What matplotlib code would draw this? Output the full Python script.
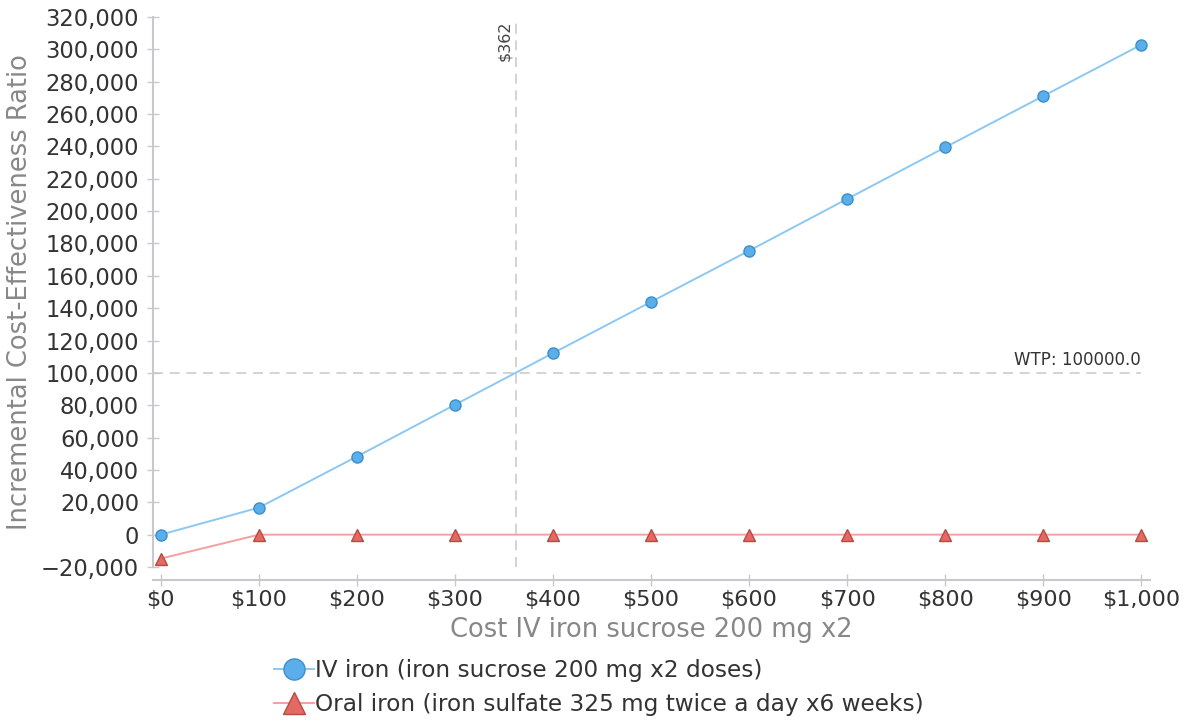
import matplotlib
matplotlib.use("Agg")
import matplotlib.pyplot as plt
from matplotlib.ticker import FuncFormatter

# data
cost = [0, 100, 200, 300, 400, 500, 600, 700, 800, 900, 1000]
iv_icer = [0, 16700, 48300, 80300, 112200, 143900, 175500, 207500, 239400, 271100, 302800]
oral_icer = [-14800, 0, 0, 0, 0, 0, 0, 0, 0, 0, 0]
iv_label = "IV iron (iron sucrose 200 mg x2 doses)"
oral_label = "Oral iron (iron sulfate 325 mg twice a day x6 weeks)"
wtp = 100000
threshold = 362

W, H = 1188, 721
fig = plt.figure(figsize=(W / 100, H / 100), dpi=100)
ax = fig.add_axes([153 / W, 1 - 567 / H, (1150 - 153) / W, (567 - 17) / H])

ax.plot(cost, iv_icer, color="#8cc8f4", lw=1.4, marker="o", ms=8,
        mfc="#5aaeea", mec="#3d8fcc", mew=1, label=iv_label, zorder=3)
ax.plot(cost, oral_icer, color="#f2a0a0", lw=1.4, marker="^", ms=8,
        mfc="#e26a62", mec="#b84a44", mew=1, label=oral_label, zorder=3)

ax.axhline(wtp, xmin=0, xmax=(1000 + 8) / (1009 + 8), color="#cccccc", ls=(0, (6, 4)), lw=1.2, zorder=1)
ax.axvline(threshold, color="#cccccc", ls=(0, (6, 4)), lw=1.2, zorder=1)
ax.text(1000, wtp + 2500, "WTP: 100000.0", ha="right", va="bottom", fontsize=12, color="#333333")
ax.text(threshold - 4, 318000, "$362", rotation=90, ha="right", va="top", fontsize=11.5, color="#444444")

ax.set_xlim(-8, 1009)
ax.set_ylim(-20000, 320000)
ax.set_xticks(cost)
ax.set_yticks(range(-20000, 320001, 20000))
ax.xaxis.set_major_formatter(FuncFormatter(lambda v, p: "${:,.0f}".format(v)))
ax.yaxis.set_major_formatter(FuncFormatter(lambda v, p: "{:,.0f}".format(v).replace("-", "\u2212")))

for s in ["top", "right"]:
    ax.spines[s].set_visible(False)
ax.spines["left"].set_color("#c8c8d0")
ax.spines["bottom"].set_color("#c8c8d0")
ax.spines["left"].set_linewidth(1.5)
ax.spines["bottom"].set_linewidth(1.5)
ax.spines["bottom"].set_position(("outward", 9))
ax.spines["bottom"].set_bounds(-8, 1009)
ax.tick_params(axis="y", direction="inout", length=9, width=1, color="#c8c8d0",
               labelsize=16.3, labelcolor="#333333", pad=5.5)
ax.tick_params(axis="x", direction="inout", length=9, width=1, color="#c8c8d0",
               labelsize=16, labelcolor="#333333", pad=3)

ax.set_ylabel("Incremental Cost-Effectiveness Ratio", fontsize=18.5, color="#888888", labelpad=6)
ax.set_xlabel("Cost IV iron sucrose 200 mg x2", fontsize=18.5, color="#888888", labelpad=5)

fig.legend(loc="upper left", bbox_to_anchor=(265 / W, 1 - 650 / H), frameon=False,
           fontsize=16.7, labelcolor="#333333", handlelength=1.7, handletextpad=0.05,
           labelspacing=0.45, borderaxespad=0, markerscale=1.9)

fig.savefig("out.png", dpi=100)
